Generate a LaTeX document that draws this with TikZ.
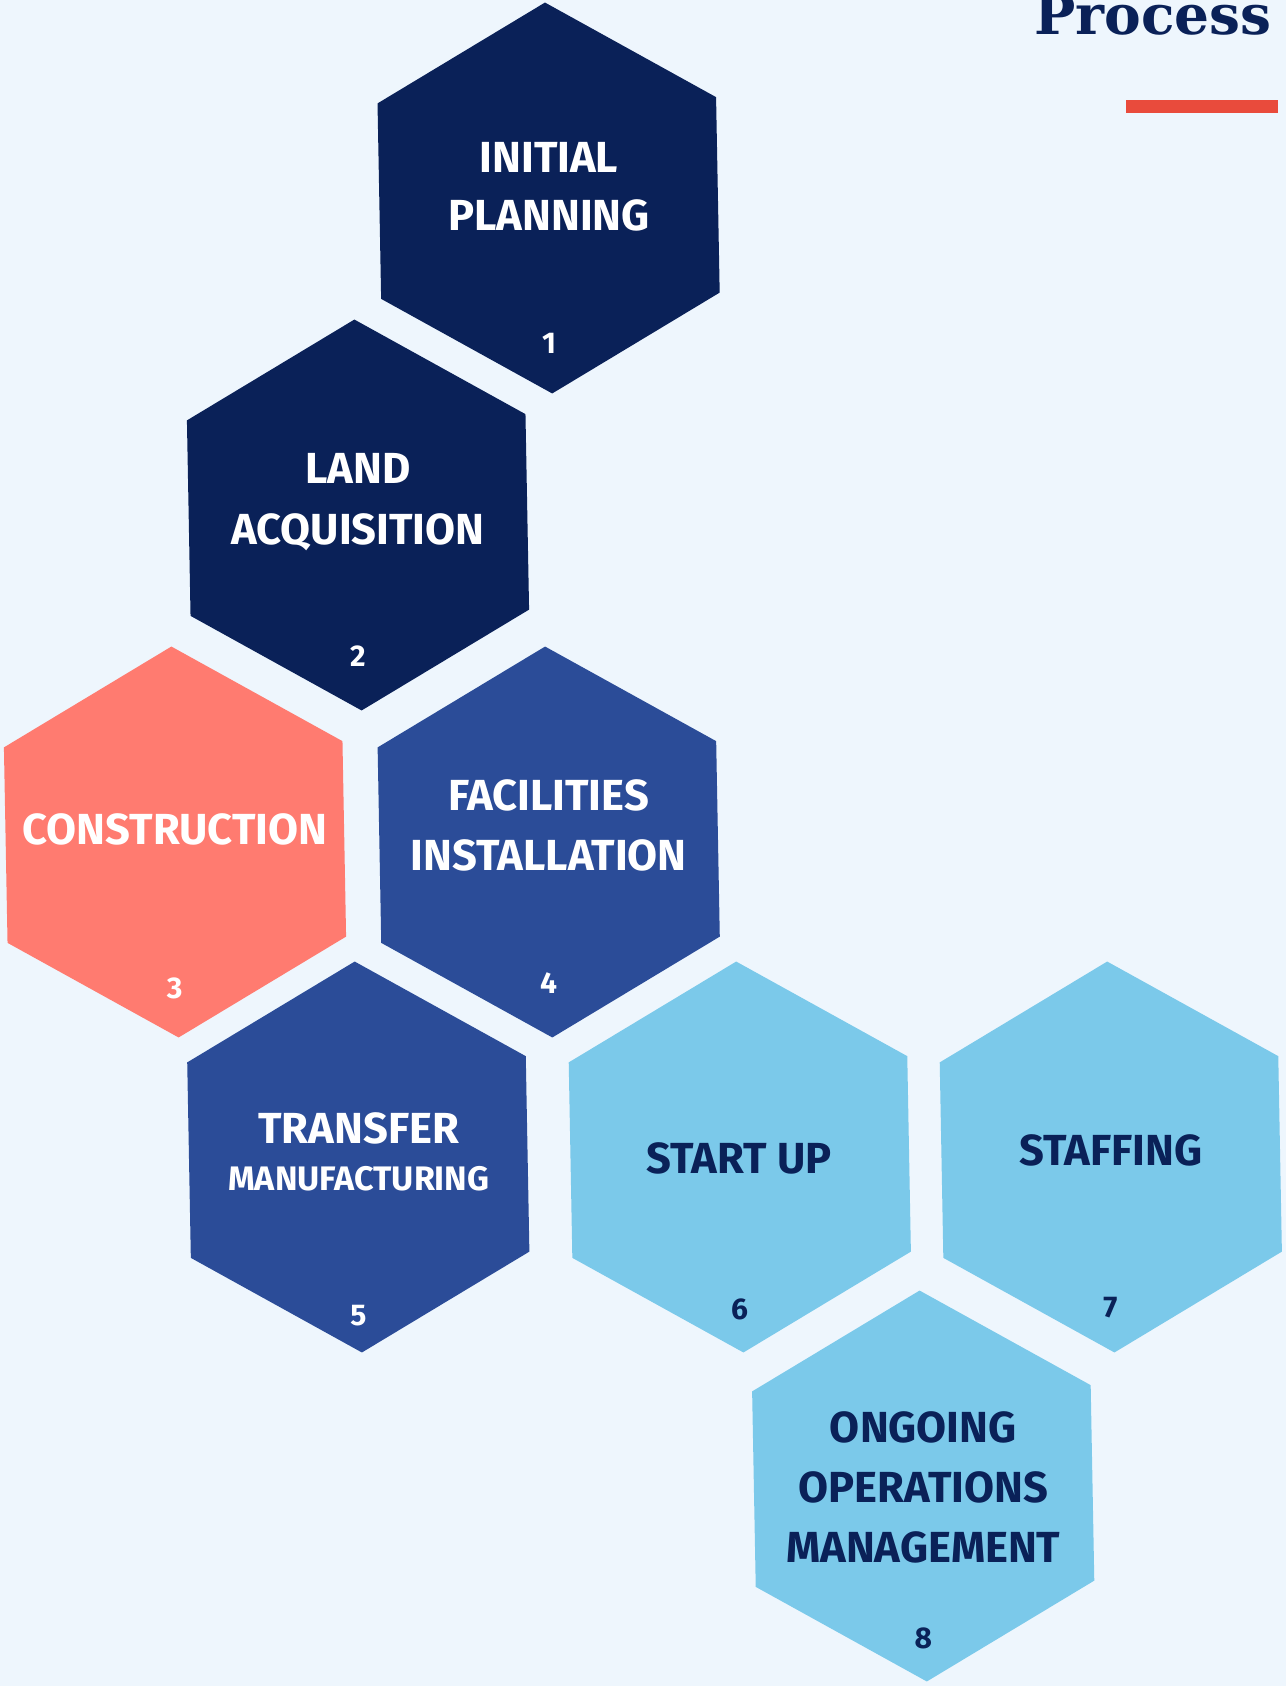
\documentclass[tikz,border=0pt]{standalone}
\usepackage{fontspec}
\setmainfont{Fira Sans}
\newfontfamily\titlefont{DejaVu Serif}
\definecolor{bgc}{HTML}{EEF6FD}
\definecolor{navy}{HTML}{0A2158}
\definecolor{salmon}{HTML}{FF7B70}
\definecolor{midblue}{HTML}{2B4C98}
\definecolor{lightblue}{HTML}{7BC9EA}
\definecolor{redbar}{HTML}{E94B3C}
\tikzset{
  lbl/.style={font=\bfseries\fontsize{43.5}{50}\selectfont, anchor=base, inner sep=0pt},
  lblsmall/.style={font=\bfseries\fontsize{34}{40}\selectfont, anchor=base, inner sep=0pt},
  num/.style={font=\bfseries\fontsize{30}{34}\selectfont, anchor=base, inner sep=0pt},
}
\newcommand\hexcell[3]{%
  \coordinate (#1) at (#2);
  \fill[#3, shift={(#1)}] (-91.06:195.5) -- (-31.06:195.5) -- (28.94:195.5) -- (88.94:195.5) -- (148.94:195.5) -- (208.94:195.5) -- cycle;
}
\begin{document}
\begin{tikzpicture}[x=1pt,y=-1pt]
\useasboundingbox (0,0) rectangle (1286,1686);
\clip (0,0) rectangle (1286,1686);
\fill[bgc] (0,0) rectangle (1286,1686);

\hexcell{h1}{548.6,198}{navy}
\hexcell{h2}{358,515}{navy}
\hexcell{h3}{175,842}{salmon}
\hexcell{h4}{548.7,842}{midblue}
\hexcell{h5}{358.3,1157}{midblue}
\hexcell{h6}{739.8,1157}{lightblue}
\hexcell{h7}{1110.8,1157}{lightblue}
\hexcell{h8}{923.2,1486}{lightblue}

% title
\node[anchor=base east, inner sep=0pt, text=navy, font=\titlefont\bfseries\fontsize{55}{62}\selectfont] (title) at (1272,35) {Process};
\node[fill=redbar, minimum width=152pt, minimum height=13pt, inner sep=0pt, anchor=north west] (bar) at (1126,100) {};

% texts
\node[lbl, text=white] (t1a) at (549,172) {INITIAL};
\node[lbl, text=white] (t1b) at (549,230.7) {PLANNING};
\node[num, text=white] (n1) at (549,353) {1};

\node[lbl, text=white] (t2a) at (358,483) {LAND};
\node[lbl, text=white] (t2b) at (358,544) {ACQUISITION};
\node[num, text=white] (n2) at (358,666) {2};

\node[lbl, text=white] (t3a) at (175,844) {CONSTRUCTION};
\node[num, text=white] (n3) at (174.7,998) {3};

\node[lbl, text=white] (t4a) at (548.7,810) {FACILITIES};
\node[lbl, text=white] (t4b) at (548.7,870) {INSTALLATION};
\node[num, text=white] (n4) at (548.7,993) {4};

\node[lbl, text=white] (t5a) at (358.7,1143) {TRANSFER};
\node[lblsmall, text=white] (t5b) at (358.8,1190) {MANUFACTURING};
\node[num, text=white] (n5) at (358.3,1325) {5};

\node[lbl, text=navy] (t6a) at (739,1173) {START UP};
\node[num, text=navy] (n6) at (739.5,1319) {6};

\node[lbl, text=navy] (t7a) at (1110.8,1165) {STAFFING};
\node[num, text=navy] (n7) at (1110.5,1317) {7};

\node[lbl, text=navy] (t8a) at (923.3,1442) {ONGOING};
\node[lbl, text=navy] (t8b) at (923.3,1502) {OPERATIONS};
\node[lbl, text=navy] (t8c) at (923.3,1562) {MANAGEMENT};
\node[num, text=navy] (n8) at (923.3,1648) {8};
\end{tikzpicture}
\end{document}
